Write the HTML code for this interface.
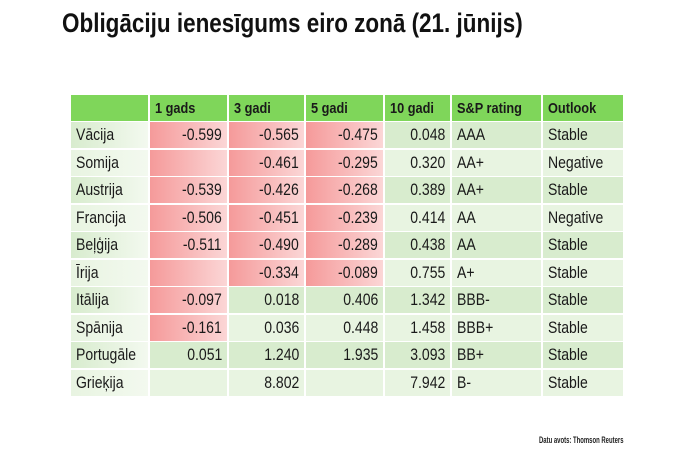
<!DOCTYPE html>
<html><head><meta charset="utf-8"><style>
body{margin:0;width:690px;height:449px;background:#fff;position:relative;overflow:hidden;font-family:"Liberation Sans Narrow","Liberation Sans",sans-serif;}
.t{position:absolute;left:62px;top:8px;font-size:27px;font-weight:bold;color:#111;white-space:nowrap;transform-origin:left top;}
.c{position:absolute;height:26px;line-height:27px;font-size:16.5px;color:#1a1a1a;box-sizing:border-box;padding:0 5px;white-space:nowrap;}
.c span{display:inline-block;transform:scaleX(0.85);transform-origin:left center;}
.c.r span{transform-origin:right center;}
.h{font-weight:bold;background:#7fd65a;font-size:15px;}
.r{text-align:right}
.red{background:linear-gradient(90deg,#f59a9a,#fbd6d6);}
.src{position:absolute;left:539px;top:435px;font-size:9px;font-weight:bold;color:#222;white-space:nowrap;transform:scaleX(0.66);transform-origin:left top;}
</style></head><body>
<div class="t" id="t">Obligāciju ienesīgums eiro zonā (21. jūnijs)</div>
<div id="tb"></div>
<div class="src">Datu avots: Thomson Reuters</div>
<script>
var t=document.getElementById('t');var w=t.offsetWidth;t.style.transform='scaleX('+(461/w)+')';
var cols=[[71,77],[150,77],[229,75],[306,77],[385,65],[452,89],[543,80]];
var hdr=['','1 gads','3 gadi','5 gadi','10 gadi','S&amp;P rating','Outlook'];
var rows=[
['Vācija','-0.599','-0.565','-0.475','0.048','AAA','Stable',1,1,1],
['Somija','','-0.461','-0.295','0.320','AA+','Negative',1,1,1],
['Austrija','-0.539','-0.426','-0.268','0.389','AA+','Stable',1,1,1],
['Francija','-0.506','-0.451','-0.239','0.414','AA','Negative',1,1,1],
['Beļģija','-0.511','-0.490','-0.289','0.438','AA','Stable',1,1,1],
['Īrija','','-0.334','-0.089','0.755','A+','Stable',1,1,1],
['Itālija','-0.097','0.018','0.406','1.342','BBB-','Stable',1,0,0],
['Spānija','-0.161','0.036','0.448','1.458','BBB+','Stable',1,0,0],
['Portugāle','0.051','1.240','1.935','3.093','BB+','Stable',0,0,0],
['Grieķija','','8.802','','7.942','B-','Stable',0,0,0]];
var h='';
cols.forEach(function(c,i){h+='<div class="c h" style="left:'+c[0]+'px;top:95px;width:'+c[1]+'px"><span>'+hdr[i]+'</span></div>';});
rows.forEach(function(r,j){var y=122+j*27.5;var bg=j%2==0?'#d8ecce':'#e8f4e1';
cols.forEach(function(c,i){var cls='c';var st='background:'+bg;
if(i==0)st='background:linear-gradient(90deg,'+bg+',#f3f9ef)';
if(i>=1&&i<=3&&r[6+i]){cls+=' red';st='';}
if(i>=1&&i<=4)cls+=' r';
h+='<div class="'+cls+'" style="left:'+c[0]+'px;top:'+y+'px;width:'+c[1]+'px;'+st+'"><span>'+r[i]+'</span></div>';});});
document.getElementById('tb').innerHTML=h;
</script>
</body></html>
